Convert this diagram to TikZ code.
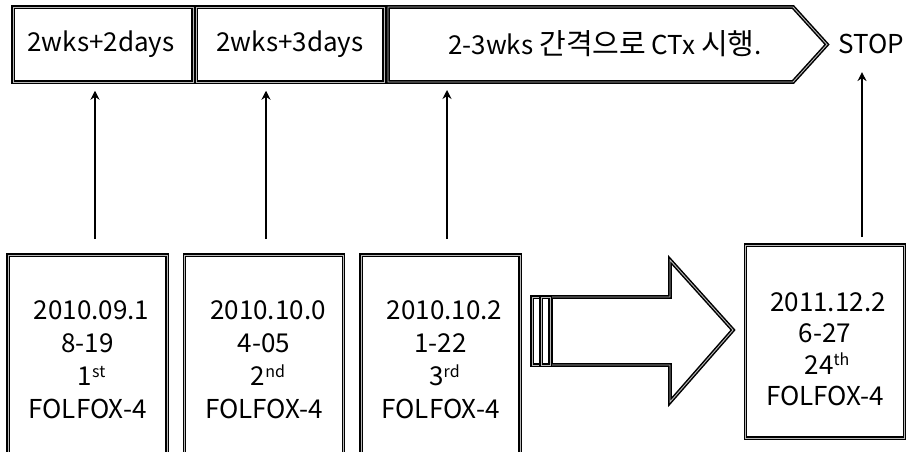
\documentclass[tikz,border=0pt]{standalone}
\usepackage{fontspec}
\setmainfont{Noto Sans CJK KR}
\newfontfamily\kr{Noto Sans CJK KR}
\usetikzlibrary{calc,arrows.meta}
\newcommand\ordsup[1]{\raisebox{0.33em}{\fontsize{16}{16}\selectfont #1}}
\newcommand\krt[1]{{\kr\fontsize{29}{30}\selectfont #1}}
\tikzset{
  dbl/.style={draw=black, line width=1.5pt, double=gray!55, double distance=0.9pt, line join=miter},
  topbox/.style={dbl, minimum height=75pt, inner sep=0pt},
  botbox/.style={dbl, minimum width=159pt, inner sep=0pt},
  bottxt/.style={inner sep=0pt, align=center, font=\fontsize{26}{33}\selectfont},
  lbl/.style={inner sep=0pt, font=\fontsize{26}{30}\selectfont},
  uparrow/.style={line width=2pt, -{Stealth[length=9pt,width=9pt]}}
}
\begin{document}
\begin{tikzpicture}[x=1pt,y=1pt]
\clip (0,0) rectangle (908,452);
\fill[white] (0,0) rectangle (908,452);
% top row
\node[topbox, minimum width=180pt] (tA) at (103,407.5) {};
\node[lbl] (tAt) at (101,408) {2wks+2days};
\node[topbox, minimum width=188pt] (tB) at (290,407.5) {};
\node[lbl] (tBt) at (290,408) {2wks+3days};
\draw[dbl] (388,445) -- (793,445) -- (827,407.5) -- (793,370) -- (388,370) -- cycle;
\node[lbl] (tC) at (605,408) {2-3wks \krt{간격으로} CTx \krt{시행}.};
\coordinate (tCb) at (447,370);
\node[lbl] (stop) at (871,408) {STOP};
% bottom row
\node[botbox, minimum height=200pt] (b1) at (87.5,97) {};
\node[bottxt] (b1t) at (87.5,92) {\hspace*{8pt}2010.09.1\\8-19\hspace*{4pt}\\\hspace*{8pt}1\ordsup{st}\\FOLFOX-4};
\node[botbox, minimum height=200pt] (b2) at (264,97) {};
\node[bottxt] (b2t) at (264,92) {\hspace*{8pt}2010.10.0\\4-05\hspace*{4pt}\\\hspace*{8pt}2\ordsup{nd}\\FOLFOX-4};
\node[botbox, minimum height=200pt] (b3) at (440.5,97) {};
\node[bottxt] (b3t) at (440.5,92) {\hspace*{8pt}2010.10.2\\1-22\hspace*{4pt}\\\hspace*{8pt}3\ordsup{rd}\\FOLFOX-4};
\node[botbox, minimum height=193pt] (b4) at (825,110.5) {};
\node[bottxt, font=\fontsize{26}{31.5}\selectfont] (b4t) at (825,103) {\hspace*{6pt}2011.12.2\\6-27\hspace*{4pt}\\\hspace*{4pt}24\ordsup{th}\\FOLFOX-4};
% up arrows
\draw[uparrow] ($(b1.north)+(7.5,15)$) -- ($(tA.south)+(-8,-8)$);
\draw[uparrow] ($(b2.north)+(2,15)$) -- ($(tB.south)+(-24,-8)$);
\draw[uparrow] ($(b3.north)+(6.5,15)$) -- ($(tCb)+(0,-8)$);
\draw[uparrow] ($(b4.north)+(37,7)$) -- ($(stop.south)+(-9,-18)$);
% block arrow
\draw[dbl, fill=white] (551,87) -- (670,87) -- (670,50) -- (733,122) -- (670,192) -- (670,155) -- (551,155) -- cycle;
\draw[dbl] (532,87) rectangle (541,155);
\draw[dbl] (541,87) rectangle (550,155);
\end{tikzpicture}
\end{document}
